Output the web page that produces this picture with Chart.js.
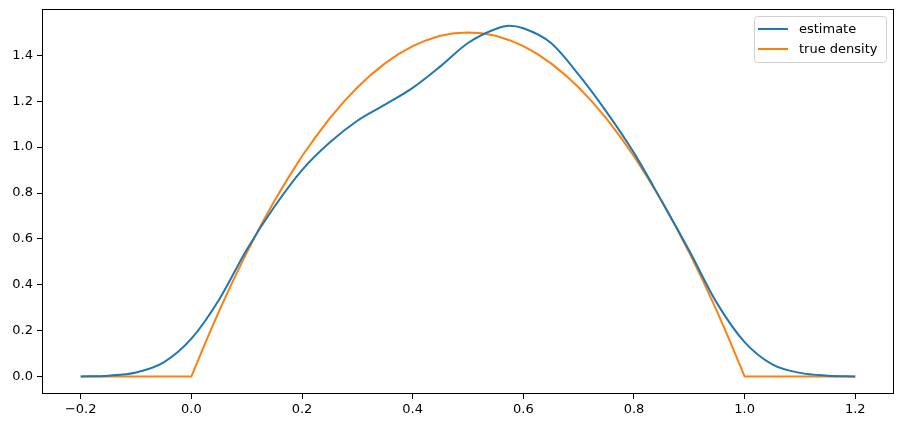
<!DOCTYPE html>
<html>
<head>
<meta charset="utf-8">
<script src="https://cdn.jsdelivr.net/npm/chart.js@4/dist/chart.umd.min.js"></script>
<style>
  html, body { margin: 0; padding: 0; background: #ffffff; }
  canvas { display: block; }
</style>
</head>
<body>
<canvas id="c" width="904" height="428"></canvas>
<script>
// ---- data ----
const estX = [-0.2, -0.15, -0.1, -0.05, 0.0, 0.05, 0.1, 0.15, 0.2, 0.25, 0.3, 0.35, 0.4, 0.45, 0.5, 0.55, 0.575, 0.6, 0.65, 0.7, 0.75, 0.8, 0.85, 0.9, 0.95, 1.0, 1.05, 1.1, 1.15, 1.2];
const estY = [0.0, 0.004, 0.018, 0.062, 0.165, 0.335, 0.553, 0.74, 0.9, 1.02, 1.115, 1.185, 1.258, 1.352, 1.454, 1.515, 1.529, 1.518, 1.454, 1.316, 1.155, 0.975, 0.765, 0.548, 0.32, 0.15, 0.053, 0.016, 0.004, 0.0];
const trueX = [-0.2, 0.0, 0.025, 0.05, 0.075, 0.1, 0.125, 0.15, 0.175, 0.2, 0.225, 0.25, 0.275, 0.3, 0.325, 0.35, 0.375, 0.4, 0.425, 0.45, 0.475, 0.5,
               0.525, 0.55, 0.575, 0.6, 0.625, 0.65, 0.675, 0.7, 0.725, 0.75, 0.775, 0.8, 0.825, 0.85, 0.875, 0.9, 0.925, 0.95, 0.975, 1.0, 1.2];
const trueY = [0.0, 0.0, 0.146, 0.285, 0.416, 0.54, 0.656, 0.765, 0.866, 0.96, 1.046, 1.125, 1.196, 1.26, 1.316, 1.365, 1.406, 1.44, 1.466, 1.485, 1.496, 1.5,
               1.496, 1.485, 1.466, 1.44, 1.406, 1.365, 1.316, 1.26, 1.196, 1.125, 1.046, 0.96, 0.866, 0.765, 0.656, 0.54, 0.416, 0.285, 0.146, 0.0, 0.0];
const xTicks = [-0.2, 0.0, 0.2, 0.4, 0.6, 0.8, 1.0, 1.2];
const yTicks = [0.0, 0.2, 0.4, 0.6, 0.8, 1.0, 1.2, 1.4];
const seriesNames = ['estimate', 'true density'];
const seriesColors = ['#1f77b4', '#ff7f0e'];

const FONT = 'DejaVu Sans';
const fmt = v => (v < 0 ? '\u2212' : '') + Math.abs(v).toFixed(1);

const framePlugin = {
  id: 'frame',
  afterDatasetsDraw(chart) {
    const a = chart.chartArea, ctx = chart.ctx;
    ctx.save();
    ctx.strokeStyle = '#000';
    ctx.lineWidth = 1;
    ctx.strokeRect(Math.round(a.left) + 0.5, Math.round(a.top) + 0.5,
                   Math.round(a.right - a.left) - 1, Math.round(a.bottom - a.top) - 1);
    ctx.restore();
  }
};

const legendPlugin = {
  id: 'mplLegend',
  afterDraw(chart) {
    const ctx = chart.ctx, a = chart.chartArea;
    const bx = a.right - 140, by = a.top + 7, bw = 132, bh = 46;
    ctx.save();
    ctx.beginPath();
    if (ctx.roundRect) ctx.roundRect(bx + 0.5, by + 0.5, bw, bh, 3); else ctx.rect(bx + 0.5, by + 0.5, bw, bh);
    ctx.fillStyle = 'rgba(255,255,255,0.8)';
    ctx.fill();
    ctx.strokeStyle = '#d0d0d0';
    ctx.lineWidth = 1;
    ctx.stroke();
    ctx.font = '13px "' + FONT + '"';
    ctx.textBaseline = 'middle';
    ctx.textAlign = 'left';
    chart.data.datasets.forEach((ds, i) => {
      const y = by + 13 + i * 20;
      ctx.strokeStyle = ds.borderColor;
      ctx.lineWidth = 2;
      ctx.beginPath();
      ctx.moveTo(bx + 4, y);
      ctx.lineTo(bx + 34, y);
      ctx.stroke();
      ctx.fillStyle = '#000';
      ctx.fillText(ds.label, bx + 45, y + 0.5);
    });
    ctx.restore();
  }
};

const zeroPad = s => { s.paddingTop = 0; s.paddingBottom = 0; s.paddingLeft = 0; s.paddingRight = 0; };

const axisCommon = {
  type: 'linear',
  grid: { display: true, drawOnChartArea: false, drawTicks: true, tickLength: 5, color: '#000', tickColor: '#000', lineWidth: 1 },
  border: { display: false },
  ticks: { color: '#000', font: { family: FONT, size: 13 }, callback: fmt }
};

new Chart(document.getElementById('c'), {
  type: 'scatter',
  data: {
    datasets: [
      {
        label: seriesNames[0],
        data: estX.map((x, i) => ({ x: x, y: estY[i] })),
        borderColor: seriesColors[0], backgroundColor: seriesColors[0],
        showLine: true, pointRadius: 0, borderWidth: 2, cubicInterpolationMode: 'monotone', fill: false
      },
      {
        label: seriesNames[1],
        data: trueX.map((x, i) => ({ x: x, y: trueY[i] })),
        borderColor: seriesColors[1], backgroundColor: seriesColors[1],
        showLine: true, pointRadius: 0, borderWidth: 2, tension: 0, fill: false
      }
    ]
  },
  options: {
    responsive: false,
    animation: false,
    devicePixelRatio: 1,
    layout: { padding: { top: 9, right: 10, left: 0, bottom: 0 } },
    plugins: { legend: { display: false }, tooltip: { enabled: false } },
    scales: {
      x: Object.assign({}, axisCommon, {
        min: -0.27, max: 1.27,
        ticks: Object.assign({}, axisCommon.ticks, { padding: 3, maxRotation: 0, autoSkip: false }),
        afterBuildTicks: s => { s.ticks = xTicks.map(v => ({ value: v })); },
        afterFit: s => { s.height = 34; zeroPad(s); }
      }),
      y: Object.assign({}, axisCommon, {
        min: -0.076, max: 1.602,
        ticks: Object.assign({}, axisCommon.ticks, { padding: 4, autoSkip: false }),
        afterBuildTicks: s => { s.ticks = yTicks.map(v => ({ value: v })); },
        afterFit: s => { s.width = 42; zeroPad(s); }
      })
    }
  },
  plugins: [framePlugin, legendPlugin]
});
</script>
</body>
</html>
